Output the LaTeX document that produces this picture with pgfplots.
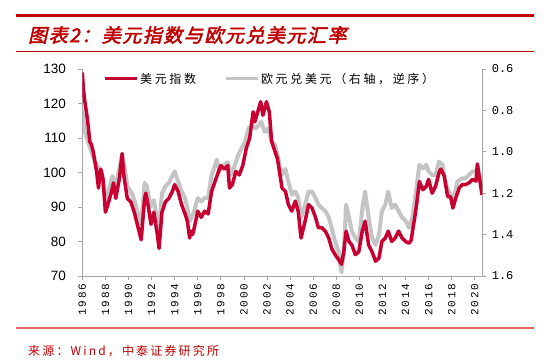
\documentclass[border=0pt]{standalone}
\usepackage{fontspec}
\usepackage{pgfplots}
\pgfplotsset{compat=1.18}
\setmainfont{Liberation Sans}
\newfontfamily\cjk[LetterSpace=22]{Noto Sans CJK SC}
\newfontfamily\cjksrc[LetterSpace=18]{Noto Sans CJK SC}
\newfontfamily\cjktitle[FakeSlant=0.22,FakeBold=2.5,LetterSpace=8]{Noto Sans CJK SC}
\newfontfamily\monof{Liberation Mono}
\newfontfamily\monox[LetterSpace=18]{Liberation Mono}
\definecolor{dxyred}{RGB}{200,0,50}
\definecolor{eurgray}{RGB}{196,196,196}
\definecolor{titlered}{RGB}{192,0,0}
\definecolor{botline}{RGB}{232,100,100}
\definecolor{axgray}{RGB}{166,166,166}

\begin{document}
\begin{tikzpicture}
\path[use as bounding box] (0bp,0bp) rectangle (550bp,363bp);
% header
\draw[titlered, line width=3bp] (16bp,347.2bp) -- (534bp,347.2bp);
\node[anchor=west, inner sep=0pt, text=titlered] at (28bp,328bp)
  {\fontsize{19bp}{22bp}\selectfont\cjktitle 图表2：美元指数与欧元兑美元汇率};
\draw[titlered, line width=1bp] (16bp,311.2bp) -- (534bp,311.2bp);
% footer
\draw[botline, line width=1.5bp] (16bp,35bp) -- (534bp,35bp);
\node[anchor=west, inner sep=0pt, text=titlered] at (28bp,12bp)
  {\fontsize{12bp}{14bp}\selectfont\cjksrc 来源：Wind，中泰证券研究所};

% right axis: EUR/USD reversed
\begin{axis}[
  at={(82.3bp,87bp)}, anchor=south west,
  width=400bp, height=207bp, scale only axis,
  xmin=1986, xmax=2020.65,
  ymin=0.6, ymax=1.6, y dir=reverse,
  axis x line=none,
  axis y line*=right,
  axis line style={draw=axgray, line width=0.8bp, -},
  ytick={0.6,0.8,1.0,1.2,1.4,1.6},
  tick align=outside,
  major tick length=4bp,
  tick style={draw=axgray, line width=0.8bp},
  yticklabel style={font=\fontsize{12bp}{14bp}\selectfont\monof, xshift=2bp,
    /pgf/number format/.cd, fixed, fixed zerofill, precision=1, assume math mode=true},
]
\addplot[eurgray, line width=4bp, line join=round] coordinates {
(1986.0,0.800) (1986.2,0.900) (1986.5,0.950) (1986.8,1.000) (1987.0,1.033)
(1987.3,1.067) (1987.5,1.100) (1987.7,1.100) (1988.0,1.233) (1988.3,1.183)
(1988.6,1.117) (1988.9,1.167) (1989.2,1.083) (1989.45,1.017) (1989.7,1.083)
(1989.9,1.167) (1990.3,1.200) (1990.6,1.250) (1990.9,1.317) (1991.1,1.350)
(1991.4,1.150) (1991.6,1.167) (1991.9,1.267) (1992.2,1.233) (1992.5,1.333)
(1992.65,1.367) (1992.9,1.200) (1993.2,1.167) (1993.5,1.150) (1993.8,1.117)
(1994.0,1.095) (1994.3,1.143) (1994.6,1.192) (1994.9,1.223) (1995.1,1.272)
(1995.3,1.335) (1995.7,1.287) (1996.0,1.223) (1996.3,1.240) (1996.6,1.223)
(1996.9,1.223) (1997.2,1.113) (1997.5,1.067) (1997.65,1.038) (1997.9,1.095)
(1998.2,1.067) (1998.6,1.050) (1998.9,1.112) (1999.2,1.067) (1999.5,1.017)
(1999.8,0.983) (2000.1,0.950) (2000.4,0.887) (2000.7,0.872) (2001.0,0.887)
(2001.3,0.872) (2001.5,0.855) (2001.8,0.903) (2002.1,0.887) (2002.4,0.950)
(2002.7,0.967) (2002.95,1.025) (2003.3,1.112) (2003.6,1.083) (2003.85,1.143)
(2004.15,1.207) (2004.45,1.192) (2004.7,1.223) (2004.95,1.317) (2005.3,1.255)
(2005.6,1.192) (2005.9,1.192) (2006.2,1.223) (2006.45,1.255) (2006.75,1.272)
(2007.05,1.287) (2007.35,1.317) (2007.6,1.367) (2007.9,1.433) (2008.2,1.483)
(2008.45,1.583) (2008.65,1.483) (2008.85,1.255) (2009.1,1.317) (2009.35,1.383)
(2009.65,1.417) (2009.95,1.433) (2010.3,1.255) (2010.5,1.192) (2010.8,1.317)
(2011.1,1.417) (2011.4,1.450) (2011.7,1.400) (2011.95,1.287) (2012.25,1.255)
(2012.5,1.192) (2012.8,1.272) (2013.1,1.255) (2013.4,1.287) (2013.7,1.317)
(2014.0,1.333) (2014.3,1.367) (2014.6,1.317) (2014.9,1.192) (2015.2,1.063)
(2015.5,1.080) (2015.8,1.063) (2016.0,1.095) (2016.3,1.112) (2016.6,1.112)
(2016.9,1.047) (2017.2,1.063) (2017.5,1.158) (2017.9,1.207) (2018.1,1.240)
(2018.5,1.143) (2018.9,1.128) (2019.2,1.128) (2019.5,1.112) (2019.8,1.095)
(2020.1,1.095) (2020.25,1.067) (2020.4,1.112) (2020.62,1.192)
};
\end{axis}

% left axis: dollar index
\begin{axis}[
  at={(82.3bp,87bp)}, anchor=south west,
  width=400bp, height=207bp, scale only axis,
  xmin=1986, xmax=2020.65,
  ymin=70, ymax=130,
  axis x line*=bottom,
  axis y line*=left,
  axis line style={draw=axgray, line width=0.8bp, -},
  xtick={1986,1988,...,2020},
  ytick={70,80,...,130},
  tick align=outside,
  major tick length=4bp,
  tick style={draw=axgray, line width=0.8bp},
  yticklabel style={font=\fontsize{13.5bp}{15bp}\selectfont, xshift=-9bp,
    /pgf/number format/assume math mode=true},
  xticklabel style={font=\fontsize{11bp}{13bp}\selectfont\monox, rotate=90, anchor=east,
    /pgf/number format/.cd, 1000 sep={}, assume math mode=true},
  legend columns=2,
  legend style={at={(103bp-82.3bp,294bp-87bp-10bp)}, anchor=west, draw=none, fill=none,
    font=\fontsize{12bp}{14bp}\selectfont\cjk, inner sep=0pt,
    /tikz/every even column/.append style={column sep=26bp}},
  legend cell align=left,
  legend image code/.code={\draw[#1, line width=3bp] (0bp,0bp) -- (32bp,0bp);},
]
\addplot[dxyred, line width=3.5bp, line join=round] coordinates {
(1986.0,129) (1986.1,124) (1986.2,121) (1986.4,116.5) (1986.5,113.7)
(1986.65,109) (1986.8,108) (1986.95,106) (1987.1,103) (1987.25,100)
(1987.4,95.5) (1987.6,101) (1987.8,98) (1988.0,88.5) (1988.2,90.5)
(1988.5,94) (1988.7,97) (1988.9,92.5) (1989.2,98) (1989.45,105.5)
(1989.6,99) (1989.9,92.5) (1990.2,91.5) (1990.5,88.5) (1990.8,84.5)
(1991.1,80.5) (1991.4,92.5) (1991.5,94) (1991.7,90.5) (1991.95,85)
(1992.2,88.5) (1992.5,82) (1992.65,78) (1992.9,88.5) (1993.2,91.5)
(1993.5,92.5) (1993.8,94.5) (1994.0,96.5) (1994.3,94.5) (1994.6,90.7)
(1994.9,88) (1995.1,85.9) (1995.3,81) (1995.4,83) (1995.55,82)
(1995.7,84) (1996.0,88.8) (1996.3,87) (1996.6,88.8) (1996.9,88)
(1997.2,94.5) (1997.5,97.4) (1997.8,100.3) (1998.0,102) (1998.3,101)
(1998.6,102) (1998.75,95.5) (1999.0,96.5) (1999.3,100.3) (1999.6,99.3)
(1999.9,102) (2000.2,107) (2000.5,110) (2000.8,117.6) (2000.95,114.7)
(2001.2,117.6) (2001.45,120.5) (2001.65,116.6) (2001.95,120.5) (2002.2,117.6)
(2002.4,109) (2002.6,107) (2002.9,104) (2003.0,102) (2003.3,95.5)
(2003.6,94.5) (2003.85,90.7) (2004.15,88.8) (2004.45,91.7) (2004.7,88.8)
(2004.95,81) (2005.3,85.9) (2005.6,90.7) (2005.9,89.7) (2006.2,87)
(2006.45,84) (2006.75,84) (2007.05,83) (2007.35,81) (2007.6,78)
(2007.9,76.2) (2008.2,74.8) (2008.45,73.4) (2008.65,77) (2008.85,83)
(2009.1,80) (2009.35,79) (2009.65,76.2) (2009.95,77) (2010.25,83)
(2010.5,85.9) (2010.8,79) (2011.1,77) (2011.4,74.3) (2011.7,75.2)
(2011.95,80) (2012.25,81) (2012.5,83) (2012.8,80) (2013.1,81)
(2013.4,83) (2013.7,81) (2014.0,80) (2014.3,79.5) (2014.5,80.5)
(2014.65,84) (2014.8,87) (2014.95,90.5) (2015.2,97.4) (2015.5,95)
(2015.8,96) (2016.0,98) (2016.3,94) (2016.6,96) (2016.9,100)
(2017.05,101) (2017.35,99) (2017.65,93) (2017.9,93) (2018.1,89.7)
(2018.35,92.6) (2018.65,95.5) (2018.9,96.5) (2019.2,96.5) (2019.5,97)
(2019.8,98) (2020.1,97.5) (2020.22,102.5) (2020.35,99.5) (2020.5,96.5)
(2020.62,93.5)
};
\addlegendentry{美元指数}
\addlegendimage{eurgray}
\addlegendentry{欧元兑美元（右轴，逆序）}
\end{axis}
\end{tikzpicture}
\end{document}
